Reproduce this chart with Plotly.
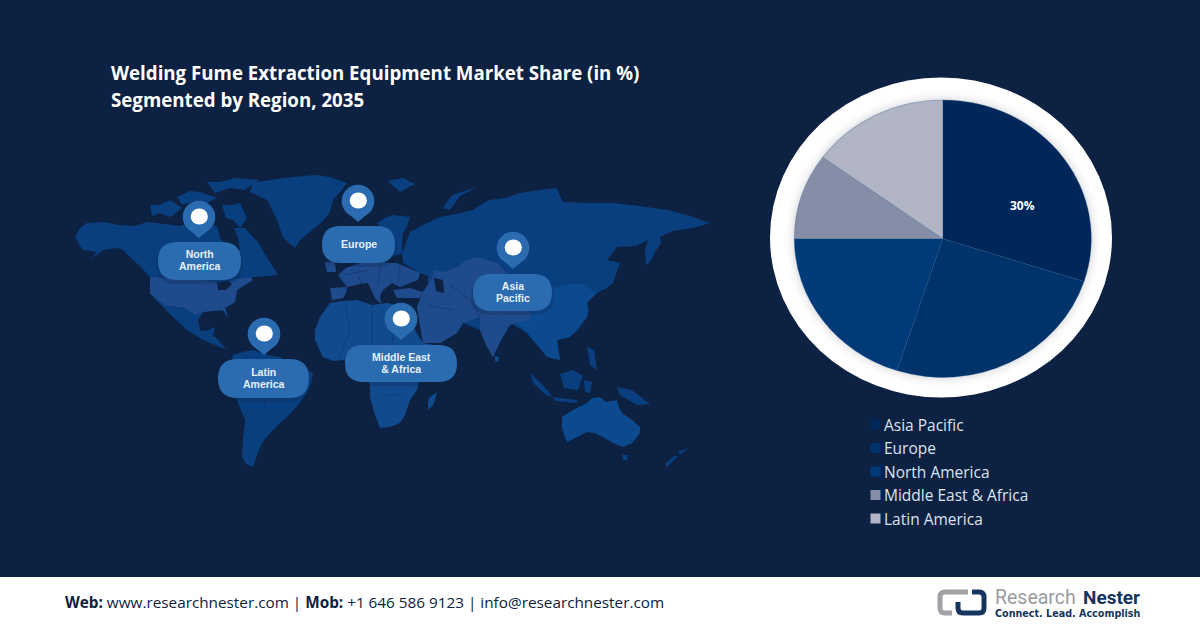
import plotly.graph_objects as go

# ---- data ----
regions = ["Asia Pacific", "Europe", "North America", "Middle East & Africa", "Latin America"]
shares = [30, 25, 20, 10, 15]
slice_colors = ["#00275A", "#00336A", "#003A78", "#858EA6", "#B1B5C4"]
shown_label = "30%"
title_lines = ["Welding Fume Extraction Equipment Market Share (in %)", "Segmented by Region, 2035"]
callouts = [
    (["North", "America"], 158, 241, 242, 280, 199, 217, 238),
    (["Europe"], 322, 395, 226, 263, 358, 201, 222),
    (["Latin", "America"], 218, 309, 359, 398, 264, 334, 355),
    (["Middle East", "& Africa"], 345, 457, 345, 382, 401, 319, 340),
    (["Asia", "Pacific"], 473, 552, 274, 311, 513, 248, 269),
]

BG = "#0D2142"
LAND = "#0A3F7F"
LAND2 = "#124A8E"
LAND3 = "#1F4A8C"
LAND4 = "#0C4A90"
BORDER = "#0F3268"
SANS = "Open Sans"

shapes = []
annos = []


def poly(pts, color):
    d = "M" + " L".join(f"{x},{y}" for x, y in pts) + " Z"
    shapes.append(dict(type="path", path=d, fillcolor=color, line=dict(width=0), layer="below",
                       xref="x", yref="y"))


def stroke(pts, color=BORDER, w=0.6):
    d = "M" + " L".join(f"{x},{y}" for x, y in pts)
    shapes.append(dict(type="path", path=d, line=dict(width=w, color=color), layer="below",
                       xref="x", yref="y"))


def oval(cx, cy, rx, ry, color):
    shapes.append(dict(type="circle", x0=cx - rx, x1=cx + rx, y0=cy - ry, y1=cy + ry,
                       fillcolor=color, line=dict(width=0), layer="below", xref="x", yref="y"))


def text(x, y, s, size, color, bold=False, anchor="left", family=SANS):
    dx = -2 if anchor == "left" else 0
    annos.append(dict(x=x + dx, y=y, xref="x", yref="y", text=f"<b>{s}</b>" if bold else s, showarrow=False,
                      xanchor=anchor, yanchor="middle", align=anchor,
                      font=dict(size=size, color=color, family=family)))


# ---- page ----
shapes.append(dict(type="rect", x0=0, x1=1200, y0=577, y1=628, fillcolor="#FFFFFF", line=dict(width=0),
                   layer="below", xref="x", yref="y"))

# ---- world map backdrop ----
# North America
poly([(75,237),(80,228),(87,223),(105,222),(118,225),(135,226),(147,222),(165,224),(180,226),(190,222),(205,224),(217,226),(220,238),(228,248),(240,250),(238,238),(234,228),(245,228),(252,236),(258,242),(266,256),(273,267),(278,275),(268,276),(253,277),(246,284),(237,290),(235,302),(225,308),(228,318),(223,310),(212,311),(203,312),(198,320),(200,330),(206,331),(215,327),(213,335),(220,342),(225,348),(231,351),(220,347),(203,340),(187,330),(173,317),(163,307),(155,299),(150,293),(150,277),(140,266),(133,260),(123,250),(118,248),(103,250),(90,260),(97,252),(83,250),(79,244)], LAND)
poly([(150,277),(213,281),(220,284),(233,280),(250,277),(253,280),(237,290),(235,302),(225,308),(228,318),(223,310),(203,312),(195,315),(185,308),(165,305),(155,298),(150,293)], LAND3)
poly([(217,283),(228,281),(232,284),(226,290),(218,290)], BG)
# Greenland and Arctic islands
poly([(253,183),(270,180),(293,177),(315,175),(330,177),(347,183),(340,192),(333,200),(330,212),(322,222),(300,240),(295,248),(290,244),(283,237),(279,226),(277,220),(270,206),(267,200),(250,192)], LAND)
poly([(207,182),(220,182),(235,178),(260,180),(250,186),(245,190),(230,188),(215,193)], LAND)
poly([(177,197),(190,191),(200,192),(217,198),(205,204),(195,201),(182,205)], LAND)
poly([(150,205),(160,205),(170,200),(182,208),(170,217),(160,213),(152,216)], LAND)
poly([(222,205),(232,205),(240,203),(247,218),(240,228),(233,220),(226,218)], LAND)
# South America
poly([(233,355),(243,352),(253,350),(268,355),(280,357),(295,366),(313,373),(311,384),(307,393),(298,405),(287,417),(280,423),(273,430),(264,440),(260,447),(256,458),(253,467),(246,464),(242,457),(243,440),(245,420),(238,403),(233,390),(228,380),(230,373)], LAND)
# Africa and Madagascar
poly([(315,330),(320,317),(330,303),(343,301),(357,300),(372,305),(387,303),(400,306),(410,317),(416,332),(423,343),(445,347),(434,362),(420,377),(417,390),(410,400),(405,415),(400,423),(390,427),(380,428),(374,412),(370,397),(370,385),(367,377),(357,366),(343,360),(333,361),(323,357),(315,340)], LAND2)
poly([(437,392),(435,400),(433,405),(428,410),(428,403),(429,398)], LAND2)
# Europe
poly([(338,275),(346,268),(360,263),(375,262),(397,263),(420,273),(418,280),(400,287),(392,283),(383,290),(380,296),(381,304),(375,298),(368,283),(360,284),(347,287)], LAND3)
poly([(330,288),(347,287),(346,293),(343,298),(332,300)], LAND3)
poly([(325,262),(335,262),(336,272),(327,272)], LAND3)
poly([(393,290),(410,288),(423,292),(420,298),(397,298)], LAND3)
poly([(377,223),(385,218),(393,215),(410,217),(407,226),(403,233),(402,245),(402,253),(393,257),(390,248),(390,240)], LAND)
poly([(388,181),(403,178),(415,184),(400,192)], LAND)
poly([(443,208),(452,195),(477,187),(460,196),(450,210)], LAND)
# Eurasia
poly([(410,232),(425,224),(440,217),(456,214),(473,210),(482,204),(490,200),(505,198),(520,193),(540,190),(557,188),(560,196),(563,202),(590,203),(613,203),(640,206),(667,210),(690,216),(710,223),(693,228),(672,231),(660,237),(661,243),(655,252),(650,262),(646,265),(645,250),(648,240),(636,246),(617,247),(612,254),(607,260),(620,263),(616,274),(613,283),(605,289),(597,293),(590,296),(587,303),(589,310),(587,317),(578,330),(570,337),(557,340),(558,350),(560,360),(553,356),(547,357),(545,345),(535,338),(527,333),(510,323),(500,342),(493,357),(486,345),(480,330),(463,323),(457,333),(440,343),(423,343),(417,307),(423,292),(428,284),(428,276),(420,273),(403,263),(402,253)], LAND)
poly([(597,293),(587,303),(587,317),(570,337),(557,340),(560,360),(547,357),(527,333),(517,323),(530,312),(530,295),(552,288),(580,283)], LAND4)
poly([(433,270),(445,272),(457,267),(467,260),(477,257),(497,263),(507,273),(530,295),(530,320),(517,323),(480,317),(463,323),(457,333),(440,343),(423,343),(417,307),(423,292),(433,277)], LAND3)
poly([(480,317),(517,323),(510,325),(500,342),(493,357),(486,345),(480,330)], LAND3)
poly([(434,278),(443,280),(444,293),(436,291)], BG)
# Island Asia and Oceania
poly([(495,356),(499,357),(498,362),(495,361)], LAND2)
poly([(530,373),(540,382),(553,397),(546,395),(533,383)], LAND)
poly([(560,374),(573,370),(583,376),(578,390),(564,388)], LAND)
poly([(553,397),(577,400),(577,403),(555,401)], LAND)
poly([(617,387),(632,390),(650,404),(637,405),(620,395)], LAND)
poly([(587,347),(594,350),(597,370),(590,365)], LAND)
poly([(584,380),(592,382),(590,393),(585,392)], LAND)
poly([(562,417),(573,410),(587,403),(592,398),(600,397),(606,402),(617,400),(619,408),(622,413),(632,420),(640,427),(640,433),(637,437),(632,443),(623,447),(613,443),(603,437),(595,433),(587,432),(575,438),(567,442),(564,435),(562,427)], LAND4)
poly([(622,455),(628,455),(627,460),(623,460)], LAND)
poly([(688,448),(680,455),(678,452)], LAND)
poly([(678,456),(667,467),(665,464),(674,456)], LAND)
for seg in [
    [(345,303),(350,330),(340,355)], [(372,302),(372,345)], [(395,305),(392,345),(372,345)],
    [(375,370),(410,375)], [(385,395),(400,395)], [(358,275),(362,284)], [(380,265),(378,285)],
    [(450,285),(470,300),(480,317)], [(427,305),(452,310)], [(262,375),(265,410)], [(240,365),(275,390)],
    [(118,225),(118,248)], [(178,320),(205,325)], [(400,265),(398,283)], [(345,275),(368,270)],
]:
    stroke(seg)

# ---- callouts ----
for lines, x0, x1, y0, y1, px, py, tip in callouts:
    r = (y1 - y0) / 2
    d = (f"M{x0+r},{y0} L{x1-r},{y0} Q{x1},{y0} {x1},{y0+r} Q{x1},{y1} {x1-r},{y1} "
         f"L{x0+r},{y1} Q{x0},{y1} {x0},{y0+r} Q{x0},{y0} {x0+r},{y0} Z")
    ds = (f"M{x0+r},{y0+4} L{x1-r},{y0+4} Q{x1+2},{y0+4} {x1+2},{y0+r+4} Q{x1+2},{y1+4} {x1-r},{y1+4} "
          f"L{x0+r},{y1+4} Q{x0-2},{y1+4} {x0-2},{y0+r+4} Q{x0-2},{y0+4} {x0+r},{y0+4} Z")
    shapes.append(dict(type="path", path=ds, fillcolor="rgba(9,25,55,0.18)", line=dict(width=0), layer="below"))
    shapes.append(dict(type="path", path=d, fillcolor="#2B6BB0", line=dict(width=0), layer="below"))
    oval(px, py, 16.3, 16.3, "#2B6BB0")
    poly([(px - 13.5, py + 9.5), (px, tip), (px + 13.5, py + 9.5)], "#2B6BB0")
    oval(px + 0.3, py - 0.5, 8.6, 8, "#FFFFFF")
    cy = (y0 + y1) / 2
    shift = 0.4 if len(lines) == 2 else -0.5
    text((x0 + x1) / 2, cy + shift, "<br>".join(lines), 10.5, "#E6F1FB", True, "center", "Liberation Sans")

# ---- pie ring ----
RING_CX, RING_CY = 941, 237.5
oval(RING_CX, RING_CY, 171, 160, "#FFFFFF")
for grow, col in [(9, "#FCFCFC"), (7, "#F9F9FA"), (5, "#F4F4F6"), (3, "#EDEEF0"), (1.5, "#E6E7EA")]:
    oval(942.8, 238.7, 148.5 + grow, 138.7 + grow, col)

# ---- title ----
text(111, 72, title_lines[0], 18.7, "#FFFFFF", True)
text(111, 99, title_lines[1], 18.7, "#FFFFFF", True)

# ---- pie value label and legend ----
text(1022, 205, shown_label, 12, "#FFFFFF", True, "center")
for i, (name, col) in enumerate(zip(regions, slice_colors)):
    y = 424.5 + i * 23.5
    shapes.append(dict(type="rect", x0=870.5, x1=880.5, y0=y - 5, y1=y + 5, fillcolor=col,
                       line=dict(width=0), layer="below", xref="x", yref="y"))
    text(884, y, name, 15.5, "#DCE3EE")

# ---- footer ----
annos.append(dict(x=63, y=601.5, xref="x", yref="y", xanchor="left", yanchor="middle", showarrow=False,
                  text="<b>Web:</b> www.researchnester.com | <b>Mob:</b> +1 646 586 9123 | info@researchnester.com",
                  font=dict(size=15.3, color="#0D2142", family=SANS)))
GRAY = "#A0A2A5"
NAVY = "#15355F"
shapes.append(dict(type="path", path="M968,592 L945,592 Q940,592 940,597 L940,608 Q940,613 945,613 L952,613",
                   line=dict(color=GRAY, width=5), layer="below"))
shapes.append(dict(type="path", path="M972,592 L979,592 Q984,592 984,597 L984,608 Q984,613 979,613 L963,613 Q958,613 958,608 L958,602",
                   line=dict(color=NAVY, width=5), layer="below"))
text(995, 597, "Research", 19.5, "#9A9C9F", False, "left", "Roboto")
text(1083, 597, "Nester", 19, NAVY, True, "left", "Roboto")
text(995, 613, "Connect. Lead. Accomplish", 9.6, NAVY, True, "left", "DejaVu Sans")

# ---- figure ----
PIE_CX, PIE_CY, PIE_R = 942.8, 238.7, 143.6
fig = go.Figure()
fig.add_trace(go.Scatter(x=[0, 1200], y=[0, 628], mode="markers", marker=dict(opacity=0), showlegend=False, hoverinfo="skip"))
fig.add_trace(go.Pie(
    labels=regions, values=shares, sort=False, direction="clockwise", rotation=0,
    marker=dict(colors=slice_colors, line=dict(width=0.3, color="#1F4A80")),
    textinfo="none", showlegend=False, hoverinfo="label+percent",
    domain=dict(x=[(PIE_CX - PIE_R) / 1200, (PIE_CX + PIE_R) / 1200],
                y=[1 - (PIE_CY + PIE_R) / 628, 1 - (PIE_CY - PIE_R) / 628]),
))
fig.update_layout(
    width=1200, height=628, margin=dict(l=0, r=0, t=0, b=0),
    paper_bgcolor=BG, plot_bgcolor=BG, shapes=shapes, annotations=annos, showlegend=False,
    xaxis=dict(range=[0, 1200], visible=False, fixedrange=True),
    yaxis=dict(range=[628, 0], visible=False, fixedrange=True),
)
sx, sy = 148.5 / PIE_R, 138.7 / PIE_R
post = f"""
document.body.style.margin='0';
var g=document.querySelector('.pielayer');
if(g){{g.setAttribute('transform','translate({PIE_CX} {PIE_CY}) scale({sx:.4f} {sy:.4f}) translate({-PIE_CX} {-PIE_CY})');}}
document.querySelectorAll('.annotation-text tspan.line').forEach(function(t){{
  if(parseFloat(t.getAttribute('dy'))>0){{t.setAttribute('dy','1.17em');}}
}});
"""
fig.write_html("out.html", post_script=post, config={"displayModeBar": False})
